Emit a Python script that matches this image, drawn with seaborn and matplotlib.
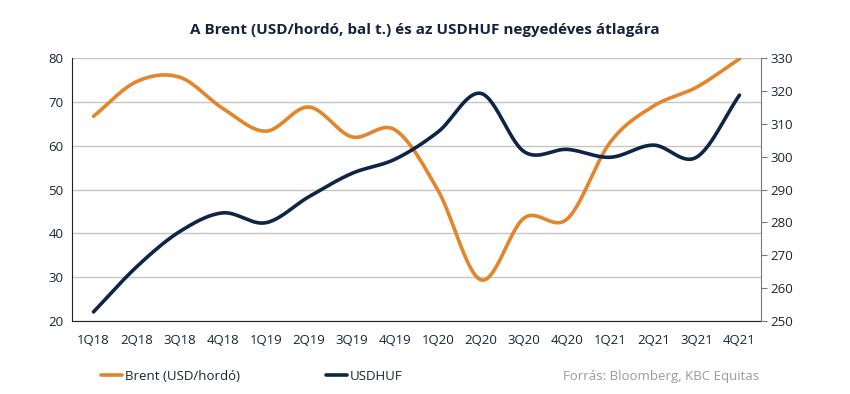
import numpy as np
import pandas as pd
import seaborn as sns
import matplotlib.pyplot as plt
from matplotlib.lines import Line2D

quarters = ["1Q18", "2Q18", "3Q18", "4Q18", "1Q19", "2Q19", "3Q19", "4Q19",
            "1Q20", "2Q20", "3Q20", "4Q20", "1Q21", "2Q21", "3Q21", "4Q21"]
brent = [66.7, 74.6, 75.6, 68.5, 63.3, 68.8, 62.0, 63.6,
         49.8, 29.4, 43.5, 43.3, 60.8, 69.0, 73.3, 79.8]
usdhuf = [252.8, 266.5, 277.2, 282.9, 279.9, 287.8, 294.9, 299.2,
          307.5, 319.2, 301.5, 302.2, 299.8, 303.5, 299.8, 318.7]

ORANGE = "#E2852B"
NAVY = "#0F2548"
TEXT = "#1B2238"


def smooth(values, n=30):
    # Catmull-Rom style curve through the points (like Excel "smoothed line")
    y = np.asarray(values, dtype=float)
    x = np.arange(len(y), dtype=float)
    pad_y = np.concatenate([[2 * y[0] - y[1]], y, [2 * y[-1] - y[-2]]])
    xs, ys = [], []
    for i in range(len(y) - 1):
        p0, p1, p2, p3 = pad_y[i], pad_y[i + 1], pad_y[i + 2], pad_y[i + 3]
        t = np.linspace(0, 1, n, endpoint=False)
        m1 = (p2 - p0) / 2
        m2 = (p3 - p1) / 2
        h00 = 2 * t**3 - 3 * t**2 + 1
        h10 = t**3 - 2 * t**2 + t
        h01 = -2 * t**3 + 3 * t**2
        h11 = t**3 - t**2
        ys.append(h00 * p1 + h10 * m1 + h01 * p2 + h11 * m2)
        xs.append(x[i] + t)
    xs.append([x[-1]])
    ys.append([y[-1]])
    return pd.DataFrame({"x": np.concatenate(xs), "y": np.concatenate(ys)})


sns.set_style("white")
plt.rcParams["font.family"] = ["Open Sans", "DejaVu Sans"]

fig = plt.figure(figsize=(8.5, 3.94), dpi=100)
ax = fig.add_axes([0.0847, 0.185, 0.8106, 0.668])
ax2 = ax.twinx()

b = smooth(brent)
u = smooth(usdhuf)
sns.lineplot(data=b, x="x", y="y", ax=ax, color=ORANGE, linewidth=2.6, sort=False)
sns.lineplot(data=u, x="x", y="y", ax=ax2, color=NAVY, linewidth=2.6, sort=False)

ax.set_xlim(-0.5, len(quarters) - 0.5)
ax.set_ylim(20, 80)
ax.set_yticks(range(20, 81, 10))
ax2.set_ylim(250, 330)
ax2.set_yticks(range(250, 331, 10))
ax.set_xticks(range(len(quarters)))
ax.set_xticklabels(quarters)
ax.set_xlabel("")
ax.set_ylabel("")
ax2.set_ylabel("")

ax.yaxis.grid(True, color="#C6C6C6", linewidth=1)
ax.set_axisbelow(True)

for s in ["top", "right"]:
    ax.spines[s].set_visible(False)
ax2.spines["top"].set_visible(False)
ax2.spines["left"].set_visible(False)
ax2.spines["bottom"].set_visible(False)
ax.spines["left"].set_color("#222222")
ax.spines["bottom"].set_color("#222222")
ax2.spines["right"].set_color("#777777")

ax.tick_params(axis="both", length=0, labelsize=9.5, labelcolor=TEXT, pad=6)
ax.tick_params(axis="x", pad=9)
ax2.tick_params(axis="y", length=4, color="#777777", labelsize=9.5, labelcolor=TEXT, pad=3)

fig.text(0.5, 0.925, "A Brent (USD/hordó, bal t.) és az USDHUF negyedéves átlagára",
         ha="center", va="center", fontsize=11, fontweight="bold", color="#15213F")

handles = [Line2D([], [], color=ORANGE, linewidth=2.6),
           Line2D([], [], color=NAVY, linewidth=2.6)]
fig.legend(handles, ["Brent (USD/hordó)", "USDHUF"], loc="center left",
           bbox_to_anchor=(0.105, 0.045), ncol=2, frameon=False, fontsize=9.5,
           handlelength=1.6, handletextpad=0.2, columnspacing=6.5,
           labelcolor=TEXT)
fig.text(0.893, 0.045, "Forrás: Bloomberg, KBC Equitas", ha="right", va="center",
         fontsize=9.5, color="#9A9A9A")

fig.savefig("out.png", dpi=100)
